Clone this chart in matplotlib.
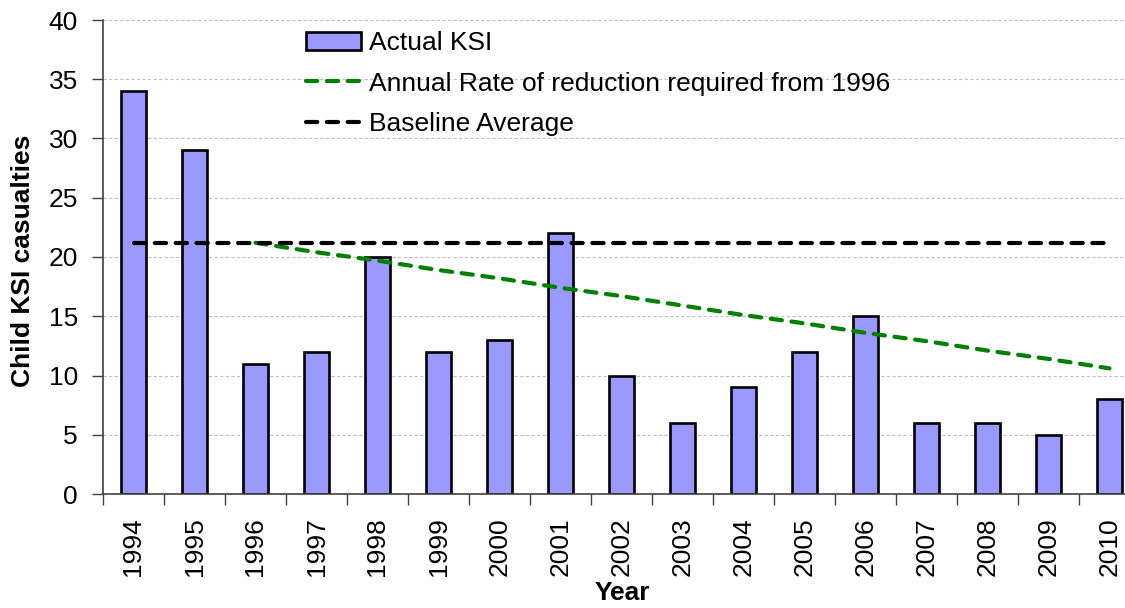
import matplotlib
matplotlib.use("Agg")
import matplotlib.pyplot as plt
import numpy as np

years = ["1994", "1995", "1996", "1997", "1998", "1999", "2000", "2001", "2002",
         "2003", "2004", "2005", "2006", "2007", "2008", "2009", "2010"]
actual_ksi = [34, 29, 11, 12, 20, 12, 13, 22, 10, 6, 9, 12, 15, 6, 6, 5, 8]
baseline_avg = [21.2] * 17
reduction_years = years[2:]
reduction_vals = [21.2, 20.4, 19.7, 18.9, 18.2, 17.4, 16.7, 15.9, 15.1, 14.4,
                  13.6, 12.9, 12.1, 11.4, 10.6]

plt.rcParams['font.family'] = ['Liberation Sans', 'DejaVu Sans']

fig = plt.figure(figsize=(11.25, 6.08), dpi=100)
W, H = 1125, 608
left, right, top, bottom = 103, 1140, 20, 494
ax = fig.add_axes([left / W, 1 - bottom / H, (right - left) / W, (bottom - top) / H])

FS = 19
x = np.arange(len(years))
ax.bar(x, actual_ksi, width=0.4, color="#9999FF", edgecolor="black",
       linewidth=1.9, label="Actual KSI", zorder=2)
rx = np.arange(2, len(years))
ax.plot(rx, reduction_vals, color="#008000", linewidth=3.0, linestyle=(0, (2.7, 2.3)),
        dash_capstyle="round", label="Annual Rate of reduction required from 1996", zorder=3)
ax.plot(x, baseline_avg, color="black", linewidth=3.0, linestyle=(0, (2.7, 2.3)),
        dash_capstyle="round", label="Baseline Average", zorder=3)

ax.set_xlim(-0.5, len(years) - 0.5)
ax.set_ylim(0, 40)
ax.set_yticks(np.arange(0, 41, 5))
ax.yaxis.grid(True, color="#c0c0c0", linestyle=(0, (3, 2)), linewidth=0.8)
ax.set_axisbelow(True)

ax.set_xticks(x)
ax.set_xticklabels(years, rotation=90, fontsize=FS)
ax.tick_params(axis="x", which="major", length=0, pad=17)
ax.set_xticks(np.arange(-0.5, len(years), 1), minor=True)
ax.tick_params(axis="x", which="minor", length=8, width=1, color="#404040")
ax.tick_params(axis="y", labelsize=FS, length=8, width=1, color="#404040", pad=10)

for s in ["top", "right"]:
    ax.spines[s].set_visible(False)
for s in ["left", "bottom"]:
    ax.spines[s].set_color("#404040")
    ax.spines[s].set_linewidth(1.2)

ax.set_ylabel("Child KSI casualties", fontsize=FS, fontweight="bold", va="center")
ax.yaxis.set_label_coords((23 - left) / (right - left), (bottom - 261) / (bottom - top))
fig.text(622 / W, 1 - 593 / H, "Year", fontsize=FS, fontweight="bold",
         ha="center", va="center")

handles, labels = ax.get_legend_handles_labels()
order = [2, 0, 1]
leg = ax.legend([handles[i] for i in order], [labels[i] for i in order],
                loc="upper left", bbox_to_anchor=(306 / W, 1 - 31 / H),
                bbox_transform=fig.transFigure,
                frameon=False, fontsize=FS, handlelength=2.1, handletextpad=0.27,
                labelspacing=0.63, borderaxespad=0, borderpad=0)

fig.savefig("out.png", dpi=100)
